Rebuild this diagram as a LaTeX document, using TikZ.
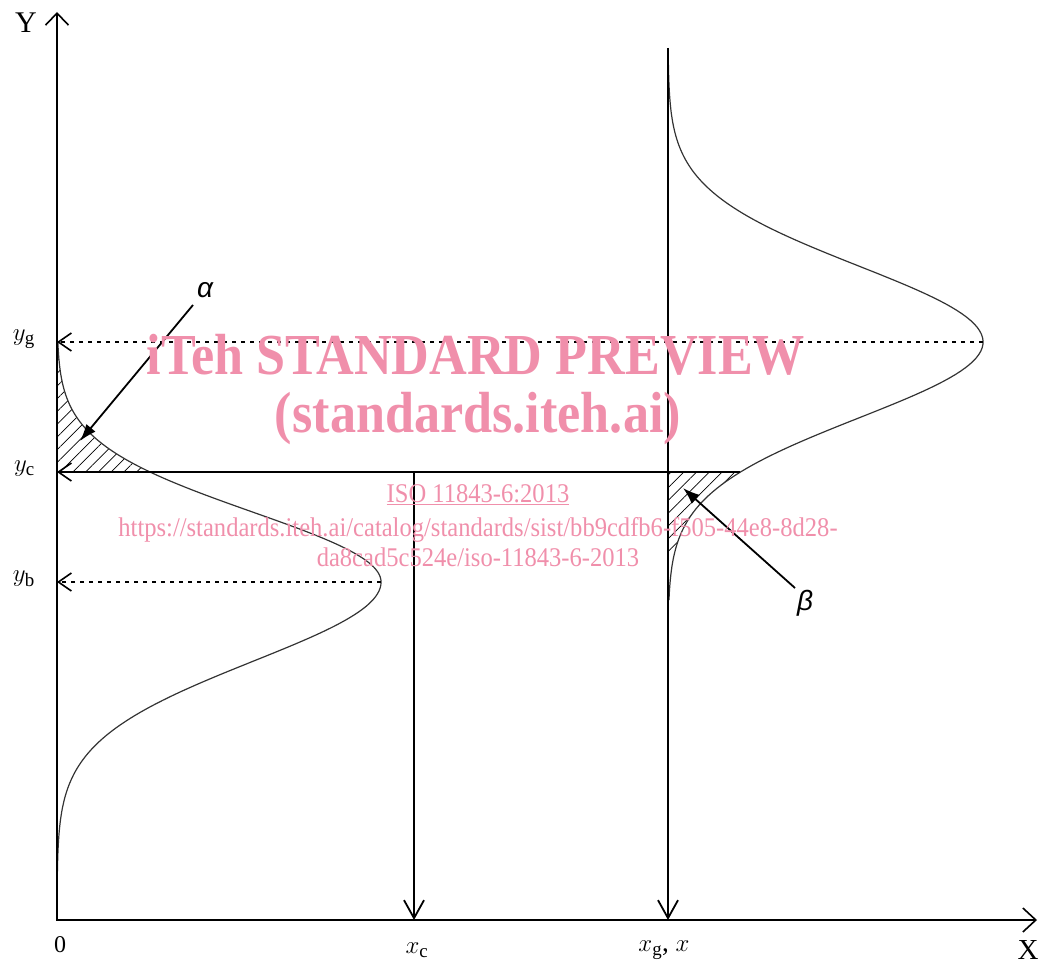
\documentclass[tikz,border=0pt]{standalone}
\usepackage{fontspec}
\setmainfont{Liberation Serif}
\newfontfamily\greekfont{Liberation Sans}
\usetikzlibrary{arrows.meta,patterns.meta}
\definecolor{wm}{RGB}{240,143,171}
\begin{document}
\begin{tikzpicture}[x=1pt,y=-1pt,
  axisline/.style={line width=2.2pt},
  thinline/.style={line width=1.8pt},
  curveline/.style={line width=1.2pt, black!80},
  dotline/.style={line width=1.8pt, dash pattern=on 4pt off 5pt},
  barbtip/.style={-{Straight Barb[length=13pt,width=18pt,line width=1.6pt]}},
  downtip/.style={-{Straight Barb[length=18pt,width=20pt,line width=1.8pt]}},
  pointer/.style={line width=1.8pt, -{Latex[length=17pt,width=12pt]}},
  hatch/.style={pattern={Lines[angle=45,distance=9pt,line width=0.7pt]}},
  lbl/.style={inner sep=0pt, font=\fontsize{27}{27}\selectfont},
  greek/.style={inner sep=0pt, font=\greekfont\itshape\fontsize{28}{28}\selectfont},
  wmbig/.style={inner sep=0pt, anchor=base, text=wm, xscale=0.9, font=\bfseries\fontsize{58}{58}\selectfont},
  wmsmall/.style={inner sep=0pt, anchor=base, text=wm, xscale=0.91, font=\fontsize{27}{27}\selectfont}]
\useasboundingbox (0,0) rectangle (1041,965);
% key points
\coordinate (O) at (57,920);
\coordinate (Ytop) at (57,12);
\coordinate (Xend) at (1037,920);
\coordinate (XC) at (414,920);
\coordinate (XG) at (668,920);
\coordinate (Rtop) at (668,48);
\coordinate (YG) at (57,342);
\coordinate (YC) at (57,472);
\coordinate (YB) at (57,582);
\coordinate (Gpeak) at (983,342);
\coordinate (Bpeak) at (381,582);
\coordinate (Cright) at (740,472);
\coordinate (Cmid) at (414,472);
% hatched areas
\fill[hatch] (57,342) -- plot[domain=342:472, samples=60] ({57+324*exp(-1*((\x-582)/100)^2/0.9695)}, \x) -- (57,472) -- cycle;
\fill[hatch] (668,472) -- plot[domain=472:552, samples=40] ({668+315*exp(-1*((\x-342)/100)^2/1.15)}, \x) -- (668,552) -- cycle;
% curves
\draw[curveline] plot[domain=342:582, samples=100] ({57+324*exp(-1*((\x-582)/100)^2/0.9695)}, \x);
\draw[curveline] plot[domain=582:875, samples=100] ({57+324*exp(-1*((\x-582)/100)^2/1.25)}, \x);
\draw[curveline] plot[domain=65:600, samples=160] ({668+315*exp(-1*((\x-342)/100)^2/1.15)}, \x);
% axes
\draw[axisline, {Straight Barb[length=12pt,width=23pt,line width=1.6pt]}-{Straight Barb[length=13pt,width=24pt,line width=1.6pt]}] (Ytop) -- (O) -- (Xend);
% verticals and horizontals
\draw[thinline, downtip] (Rtop) -- (XG);
\draw[thinline, downtip] (Cmid) -- (XC);
\draw[axisline, barbtip] (Cright) -- (YC);
\draw[dotline, barbtip] (Gpeak) -- (YG);
\draw[dotline, barbtip] (Bpeak) -- (YB);
% axis labels
\node[lbl, font=\fontsize{30}{30}\selectfont] (Ylab) at (26,23) {Y};
\node[lbl, font=\fontsize{29}{29}\selectfont] (Xlab) at (1028,950) {X};
\node[lbl, font=\fontsize{24}{24}\selectfont] (Olab) at (60,945) {0};
\node[lbl, anchor=east] (yglab) at (35,339) {$y_{\mathrm{g}}$};
\node[lbl, anchor=east] (yclab) at (35,469) {$y_{\mathrm{c}}$};
\node[lbl, anchor=east] (yblab) at (35,579) {$y_{\mathrm{b}}$};
\node[lbl] (xclab) at (417,950) {$x_{\mathrm{c}}$};
\node[lbl] (xglab) at (664,950) {$x_{\mathrm{g}}$, $x$};
% alpha and beta
\node[greek] (alab) at (205,290) {α};
\node[greek] (blab) at (805,603) {β};
\coordinate (atail) at (193,305);
\coordinate (atip) at (80,441);
\coordinate (btail) at (795,588);
\coordinate (btip) at (683,488);
\draw[pointer] (atail) -- (atip);
\draw[pointer] (btail) -- (btip);
% watermark
\node[wmbig] (wm1) at (476,374) {iTeh STANDARD PREVIEW};
\node[wmbig] (wm2) at (478,432) {(standards.iteh.ai)};
\node[wmsmall] (wm3) at (478,502) {\underline{ISO 11843-6:2013}};
\node[wmsmall] (wm4) at (478,536) {https://standards.iteh.ai/catalog/standards/sist/bb9cdfb6-f505-44e8-8d28-};
\node[wmsmall] (wm5) at (478,566) {da8cad5c524e/iso-11843-6-2013};
\end{tikzpicture}
\end{document}
